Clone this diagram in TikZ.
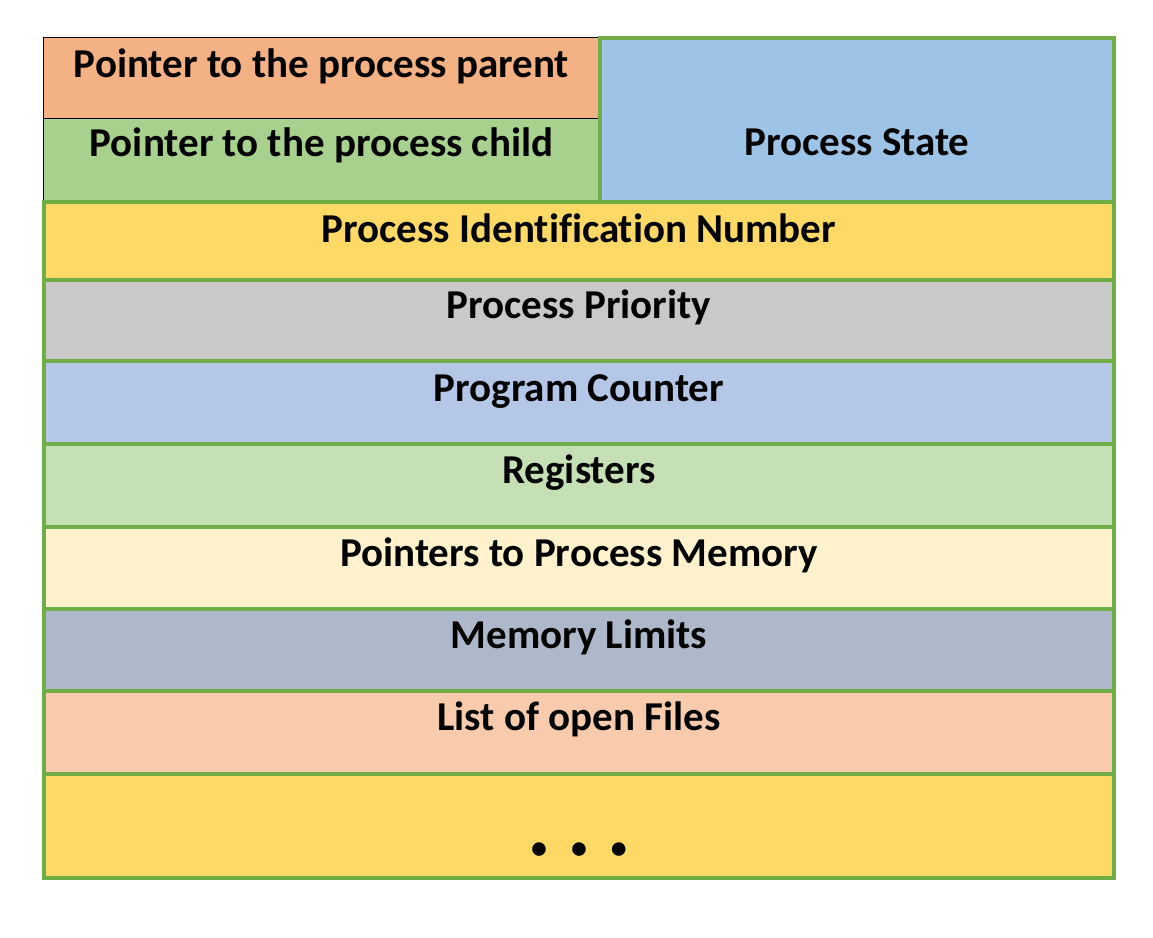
\documentclass[tikz,border=0pt]{standalone}
\usepackage{fontspec}
\setmainfont{Carlito}[Ligatures=NoCommon]
\definecolor{pcbgreen}{HTML}{70AD47}
\definecolor{parentorange}{HTML}{F4B183}
\definecolor{childgreen}{HTML}{A9D18E}
\definecolor{stateblue}{HTML}{9DC3E6}
\definecolor{pidyellow}{HTML}{FFD966}
\definecolor{prioritygray}{HTML}{C9C9C9}
\definecolor{pcblue}{HTML}{B4C7E7}
\definecolor{regsgreen}{HTML}{C5E0B4}
\definecolor{memptryellow}{HTML}{FFF2CC}
\definecolor{memlimgray}{HTML}{ADB9CA}
\definecolor{filespeach}{HTML}{F8CBAD}
\begin{document}
\begin{tikzpicture}[
            x=1pt,y=-1pt,
            cell/.style={rectangle,anchor=north west,inner sep=0pt,outer sep=0pt,
                    align=center,font=\fontsize{41pt}{48pt}\selectfont\bfseries},
            pointer/.style={cell,draw=black,line width=1pt,minimum width=557pt},
            field/.style={cell,draw=pcbgreen,line width=4pt,minimum width=1070pt,
                    text height=39.5pt},
        ]
        \useasboundingbox (0,0) rectangle (1153,937);

        % Pointers (thin black frame)
        \node[pointer,fill=parentorange,text height=40pt,text depth=41pt]
            (parent) at (43,37) {Pointer to the process parent};
        \node[pointer,fill=childgreen,text height=38pt,text depth=46pt]
            (child) at (43,118) {Pointer to the process child};

        % State
        \node[cell,draw=pcbgreen,line width=4pt,fill=stateblue,minimum width=514pt,
            text height=117pt,text depth=47pt] (state) at (600,38) {Process State};

        % Fields of the block
        \node[field,fill=pidyellow,text height=40pt,text depth=38pt]
            (pid) at (44,202) {Process Identification Number};
        \node[field,fill=prioritygray,text height=38pt,text depth=43pt]
            (priority) at (44,280) {Process Priority};
        \node[field,fill=pcblue,text height=40pt,text depth=43pt]
            (pc) at (44,361) {Program Counter};
        \node[field,fill=regsgreen,text depth=43pt]
            (regs) at (44,444) {Registers};
        \node[field,fill=memptryellow,text depth=42.5pt]
            (memptr) at (44,526.5) {Pointers to Process Memory};
        \node[field,fill=memlimgray,text depth=42.8pt]
            (memlim) at (44,608.7) {Memory Limits};
        \node[field,fill=filespeach,text depth=43.5pt]
            (files) at (44,691) {List of open Files};
        \node[field,fill=pidyellow,text height=84pt,text depth=20pt]
            (more) at (44,774) {\fontsize{32pt}{38pt}\selectfont
                \textbullet\hspace{24pt}\textbullet\hspace{24pt}\textbullet};

    \end{tikzpicture}
\end{document}
